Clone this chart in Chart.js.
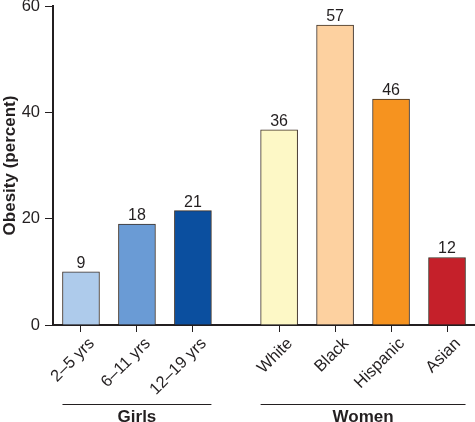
<!DOCTYPE html>
<html>
<head>
<meta charset="utf-8">
<script src="https://cdn.jsdelivr.net/npm/chart.js@4/dist/chart.umd.min.js"></script>
<style>
  html, body { margin: 0; padding: 0; background: #fff; }
  #wrap { width: 475px; height: 422px; position: relative; }
</style>
</head>
<body>
<div id="wrap"><canvas id="grafica"></canvas></div>
<script>
// datos
const categorias = ['2–5 yrs', '6–11 yrs', '12–19 yrs', 'White', 'Black', 'Hispanic', 'Asian'];
const valores = [10.0, 19.0, 21.5, 36.7, 56.4, 42.5, 12.7];
const etiquetas = ['9', '18', '21', '36', '57', '46', '12'];
const grupos = ['Girls', 'Women'];
const grupoDe = [0, 0, 0, 1, 1, 1, 1];
const yTicks = [0, 20, 40, 60];

const colores = ['#aecbeb', '#6a9bd5', '#0b4f9f', '#fdf8c6', '#fdd1a0', '#f6931f', '#c5202a'];
const INK = '#231f20';
const FONT = '"Liberation Sans", Arial, Helvetica, sans-serif';
const HUECO = 0.54; // separación extra entre grupos

const posX = categorias.map((c, i) => i + grupoDe[i] * HUECO);

const etiquetasPlugin = {
  id: 'etiquetas',
  afterDatasetsDraw(chart) {
    const ctx = chart.ctx;
    const meta = chart.getDatasetMeta(0);
    ctx.save();
    ctx.font = '16px ' + FONT;
    ctx.fillStyle = INK;
    ctx.textAlign = 'center';
    ctx.textBaseline = 'alphabetic';
    meta.data.forEach((bar, i) => {
      ctx.fillText(etiquetas[i], bar.x, bar.y - 4);
    });
    ctx.restore();
  }
};

const gruposPlugin = {
  id: 'grupos',
  afterDraw(chart) {
    const ctx = chart.ctx;
    const meta = chart.getDatasetMeta(0);
    ctx.save();
    grupos.forEach((g, gi) => {
      const barras = meta.data.filter((b, i) => grupoDe[i] === gi);
      const x0 = barras[0].x - barras[0].width / 2;
      const x1 = barras[barras.length - 1].x + barras[barras.length - 1].width / 2;
      ctx.strokeStyle = INK;
      ctx.lineWidth = 1;
      ctx.beginPath();
      ctx.moveTo(x0, 404.5);
      ctx.lineTo(x1, 404.5);
      ctx.stroke();
      ctx.font = 'bold 17px ' + FONT;
      ctx.fillStyle = INK;
      ctx.textAlign = 'center';
      ctx.textBaseline = 'alphabetic';
      ctx.fillText(g, (x0 + x1) / 2, 422);
    });
    ctx.restore();
  }
};

new Chart(document.getElementById('grafica'), {
  type: 'bar',
  data: {
    datasets: [{
      data: valores.map((v, i) => ({ x: posX[i], y: v })),
      backgroundColor: colores,
      borderColor: '#3c2f25',
      borderWidth: 1,
      borderSkipped: 'bottom',
      barThickness: 37
    }]
  },
  options: {
    responsive: true,
    maintainAspectRatio: false,
    animation: false,
    layout: { padding: { top: 6, right: 0, left: 0, bottom: 0 } },
    plugins: { legend: { display: false }, tooltip: { enabled: false } },
    scales: {
      x: {
        type: 'linear',
        offset: false,
        min: -0.5,
        max: posX[posX.length - 1] + 0.5,
        afterBuildTicks: s => { s.ticks = posX.map(v => ({ value: v })); },
        afterFit: s => { s.height = 97; s.paddingLeft = 0; s.paddingRight = 0; },
        ticks: {
          autoSkip: false,
          minRotation: 45,
          maxRotation: 45,
          labelOffset: 11,
          padding: 2,
          color: INK,
          font: { family: FONT, size: 16.5 },
          callback: v => categorias[posX.indexOf(v)]
        },
        grid: { display: true, offset: false, drawOnChartArea: false, drawTicks: true, tickLength: 7, color: INK, lineWidth: 1 },
        border: { display: true, color: INK, width: 2 }
      },
      y: {
        min: 0,
        max: 60,
        afterBuildTicks: s => { s.ticks = yTicks.map(v => ({ value: v })); },
        afterFit: s => { s.width = 53; s.paddingTop = 0; s.paddingBottom = 0; },
        ticks: { color: INK, padding: 5, font: { family: FONT, size: 16.5 } },
        grid: { display: true, drawOnChartArea: false, drawTicks: true, tickLength: 8, color: INK, lineWidth: 1 },
        border: { display: true, color: INK, width: 2 },
        title: {
          display: true,
          text: 'Obesity (percent)',
          color: INK,
          padding: 0,
          font: { family: FONT, size: 17, weight: 'bold' }
        }
      }
    }
  },
  plugins: [etiquetasPlugin, gruposPlugin]
});
</script>
</body>
</html>
